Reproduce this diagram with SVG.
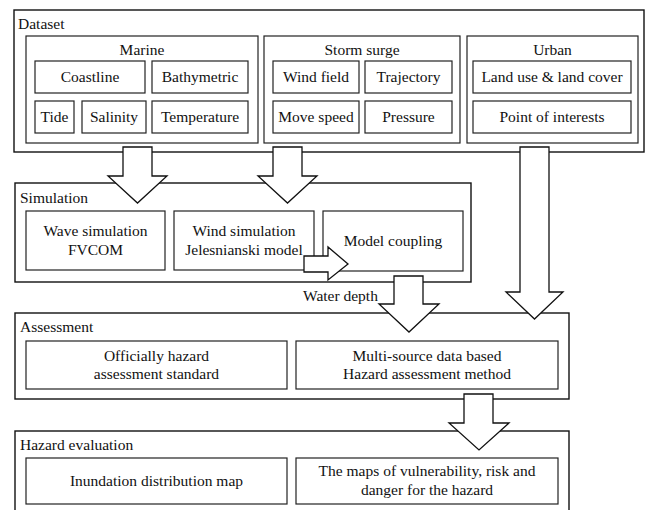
<svg xmlns="http://www.w3.org/2000/svg" width="646" height="510" viewBox="0 0 646 510">
<style>
.outer{fill:#fff;stroke:#111;stroke-width:1.4}
.box{fill:#fff;stroke:#222;stroke-width:1.2}
.arr{fill:#fff;stroke:#111;stroke-width:1.3;stroke-linejoin:miter}
text{font-family:"Liberation Serif","Times New Roman",Times,"Tinos","Noto Serif","DejaVu Serif","Nimbus Roman","FreeSerif",serif;font-size:15.5px;fill:#111}
.c{text-anchor:middle}
</style>
<rect width="646" height="510" fill="#fff"/>
<g id="dataset">
<rect class="outer" x="14" y="10" width="630" height="142"/>
<text x="18" y="29">Dataset</text>
<g id="marine">
<rect class="box" x="26" y="36" width="232" height="107"/>
<text class="c" x="142" y="55">Marine</text>
<g id="coastline"><rect class="box" x="35" y="61" width="110" height="32"/><text class="c" x="90" y="82">Coastline</text></g>
<g id="bathymetric"><rect class="box" x="152" y="61" width="96" height="32"/><text class="c" x="200" y="82">Bathymetric</text></g>
<g id="tide"><rect class="box" x="35" y="101" width="39" height="32"/><text class="c" x="54.5" y="122">Tide</text></g>
<g id="salinity"><rect class="box" x="82" y="101" width="64" height="32"/><text class="c" x="114" y="122">Salinity</text></g>
<g id="temperature"><rect class="box" x="152" y="101" width="96" height="32"/><text class="c" x="200" y="122">Temperature</text></g>
</g>
<g id="storm">
<rect class="box" x="264" y="36" width="196" height="107"/>
<text class="c" x="362" y="55">Storm surge</text>
<g id="windfield"><rect class="box" x="273" y="61" width="86" height="32"/><text class="c" x="316" y="82">Wind field</text></g>
<g id="trajectory"><rect class="box" x="365" y="61" width="87" height="32"/><text class="c" x="408.5" y="82">Trajectory</text></g>
<g id="movespeed"><rect class="box" x="273" y="101" width="86" height="32"/><text class="c" x="316" y="122">Move speed</text></g>
<g id="pressure"><rect class="box" x="365" y="101" width="87" height="32"/><text class="c" x="408.5" y="122">Pressure</text></g>
</g>
<g id="urban">
<rect class="box" x="467" y="36" width="171" height="107"/>
<text class="c" x="552.5" y="55">Urban</text>
<g id="landuse"><rect class="box" x="473" y="61" width="158" height="32"/><text class="c" x="552" y="82">Land use &amp; land cover</text></g>
<g id="poi"><rect class="box" x="473" y="101" width="158" height="32"/><text class="c" x="552" y="122">Point of interests</text></g>
</g>
</g>
<g id="simulation">
<rect class="outer" x="15" y="183" width="456" height="99"/>
<text x="20" y="203">Simulation</text>
<g id="wave"><rect class="box" x="26" y="211" width="139" height="59"/><text class="c" x="95.5" y="236">Wave simulation</text><text class="c" x="95.5" y="255">FVCOM</text></g>
<g id="wind"><rect class="box" x="174" y="211" width="140" height="59"/><text class="c" x="244" y="236">Wind simulation</text><text class="c" x="244" y="255">Jelesnianski model</text></g>
<g id="coupling"><rect class="box" x="323" y="211" width="140" height="60"/><text class="c" x="393" y="246">Model coupling</text></g>
</g>
<g id="assessment">
<rect class="outer" x="15" y="313" width="554" height="86"/>
<text x="20" y="332">Assessment</text>
<g id="official"><rect class="box" x="26" y="341" width="261" height="48"/><text class="c" x="156.5" y="361">Officially hazard</text><text class="c" x="156.5" y="379">assessment standard</text></g>
<g id="multisource"><rect class="box" x="296" y="341" width="262" height="48"/><text class="c" x="427" y="361">Multi-source data based</text><text class="c" x="427" y="379">Hazard assessment method</text></g>
</g>
<g id="hazard">
<rect class="outer" x="15" y="431" width="554" height="84"/>
<text x="20" y="450">Hazard evaluation</text>
<g id="inundation"><rect class="box" x="26" y="458" width="261" height="46"/><text class="c" x="156.5" y="486">Inundation distribution map</text></g>
<g id="maps"><rect class="box" x="296" y="458" width="262" height="46"/><text class="c" x="427" y="476">The maps of vulnerability, risk and</text><text class="c" x="427" y="495">danger for the hazard</text></g>
</g>
<g id="connectors">
<polygon class="arr" points="123,147 152,147 152,176 167,176 137.5,203 108,176 123,176"/>
<polygon class="arr" points="273,147 302,147 302,176 317,176 287.5,203 258,176 273,176"/>
<polygon class="arr" points="520,147 549,147 549,292 563,292 534.5,319 506,292 520,292"/>
<polygon class="arr" points="304,256 328,256 328,247 348,264 328,280 328,272 304,272"/>
<polygon class="arr" points="394,276 423,276 423,304 439,304 409,332 379,304 394,304"/>
<polygon class="arr" points="464,394 493,394 493,423 509,423 479,450 449,423 464,423"/>
<text x="303" y="301">Water depth</text>
</g>
</svg>
